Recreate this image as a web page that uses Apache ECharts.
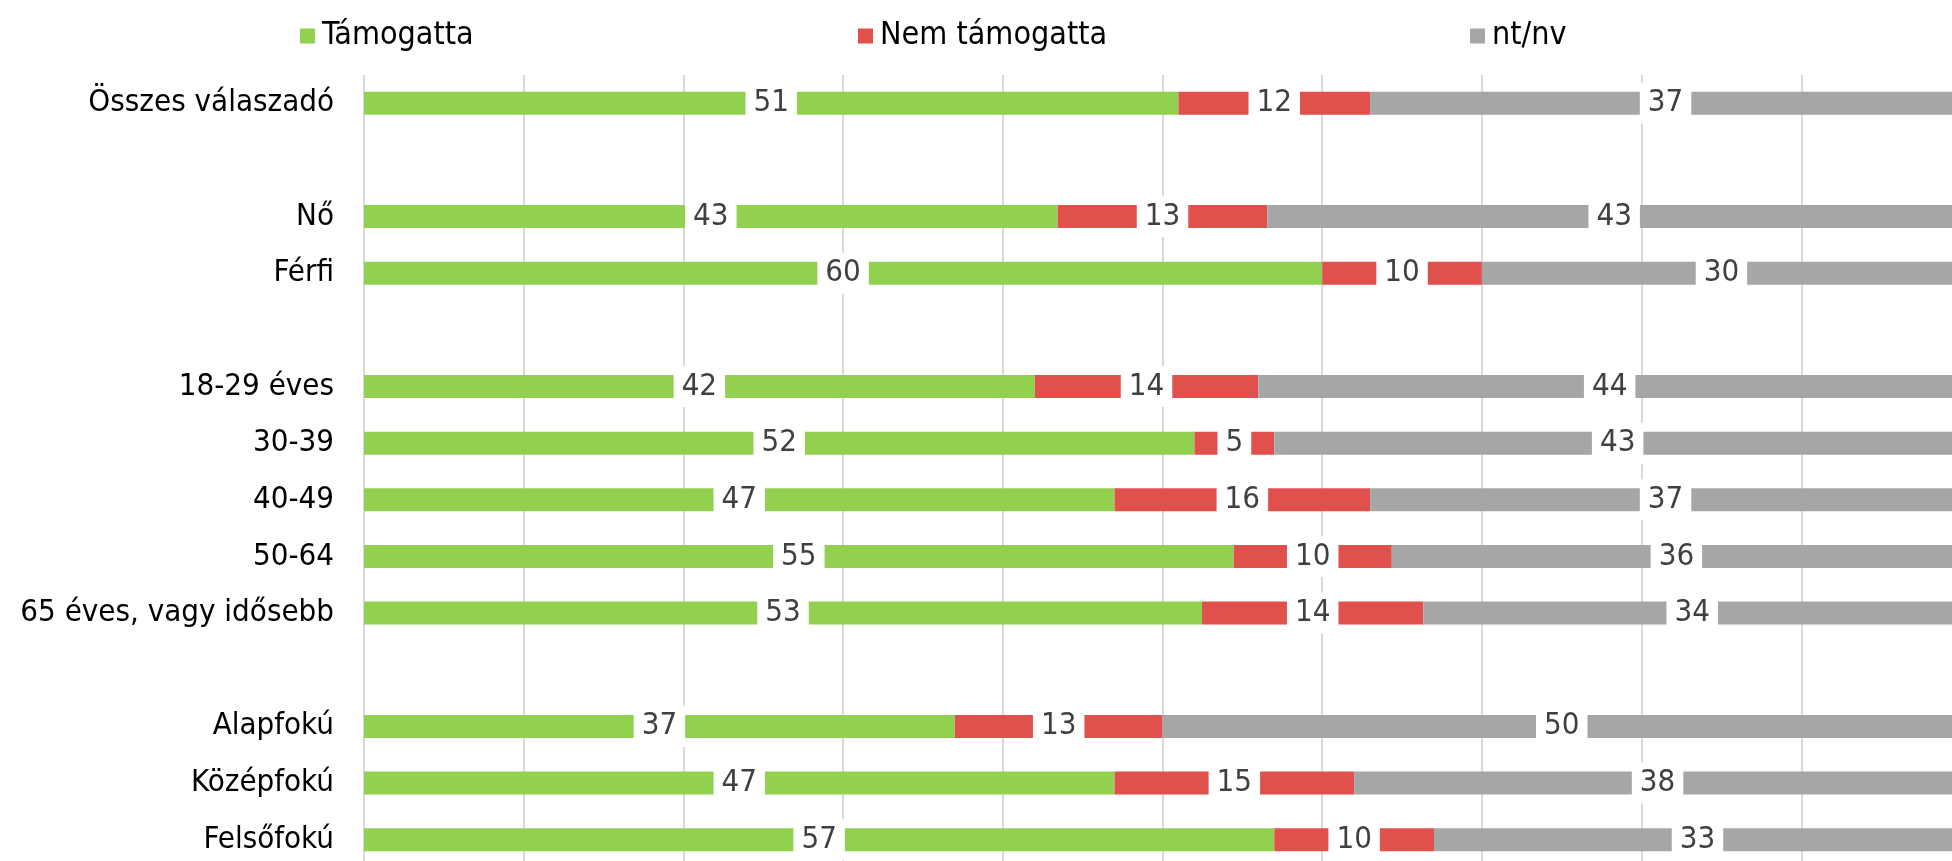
<!DOCTYPE html>
<html>
<head>
<meta charset="utf-8">
<script src="https://cdn.jsdelivr.net/npm/echarts@6/dist/echarts.min.js"></script>
<style>
  html, body { margin: 0; padding: 0; background: #fff; }
  #chart { width: 1952px; height: 861px; }
</style>
</head>
<body>
<div id="chart"></div>
<script>
// kategóriák (üres sorok = elválasztók)
var categories = ['Összes válaszadó', ' ', 'Nő', 'Férfi', '  ', '18-29 éves', '30-39', '40-49', '50-64',
    '65 éves, vagy idősebb', '   ', 'Alapfokú', 'Középfokú', 'Felsőfokú'];
var seriesNames = ['Támogatta', 'Nem támogatta', 'nt/nv'];
var tamogatta = [51, '-', 43, 60, '-', 42, 52, 47, 55, 53, '-', 37, 47, 57];
var nemTamogatta = [12, '-', 13, 10, '-', 14, 5, 16, 10, 14, '-', 13, 15, 10];
var ntnv = [37, '-', 43, 30, '-', 44, 43, 37, 36, 34, '-', 50, 38, 33];
var colors = ['#92d050', '#e0514e', '#a6a6a6'];

var raw = [tamogatta, nemTamogatta, ntnv];
var font = "'DejaVu Sans Condensed', 'DejaVu Sans', sans-serif";

// 100%-os halmozás: minden sort a saját összegére vetítünk
function shares(idx) {
    return raw[idx].map(function (v, i) {
        if (v === '-') return '-';
        var total = tamogatta[i] + nemTamogatta[i] + ntnv[i];
        return v / total * 100;
    });
}

var series = seriesNames.map(function (name, idx) {
    return {
        name: name,
        type: 'bar',
        stack: 'total',
        barWidth: 23,
        data: shares(idx),
        itemStyle: { color: colors[idx] },
        label: {
            show: true,
            position: 'inside',
            color: '#404040',
            fontFamily: font,
            fontSize: 31,
            backgroundColor: '#fff',
            padding: [6, 8, 4, 8],
            formatter: function (p) {
                return raw[p.seriesIndex][p.dataIndex];
            }
        }
    };
});

function legendAt(name, left) {
    return {
        data: [name],
        left: left,
        top: 20,
        padding: 0,
        icon: 'rect',
        itemWidth: 15,
        itemHeight: 15,
        itemGap: 0,
        selectedMode: false,
        textStyle: { fontFamily: font, fontSize: 32, color: '#000', padding: [0, 0, 0, 2] }
    };
}

var myChart = echarts.init(document.getElementById('chart'));
myChart.setOption({
    animation: false,
    legend: [
        legendAt('Támogatta', 300),
        legendAt('Nem támogatta', 858),
        legendAt('nt/nv', 1470)
    ],
    grid: {
        left: 364,
        top: 75,
        width: 1597,
        height: 793,
        containLabel: false,
        outerBoundsMode: 'none'
    },
    xAxis: {
        type: 'value',
        min: 0,
        max: 100,
        interval: 10,
        axisLabel: { show: false },
        axisLine: { show: false },
        axisTick: { show: false },
        splitLine: { lineStyle: { color: '#d9d9d9', width: 2 } }
    },
    yAxis: {
        type: 'category',
        inverse: true,
        data: categories,
        axisLine: { show: false },
        axisTick: { show: false },
        axisLabel: {
            margin: 30,
            fontFamily: font,
            fontSize: 31,
            color: '#000'
        }
    },
    series: series
});
</script>
</body>
</html>
